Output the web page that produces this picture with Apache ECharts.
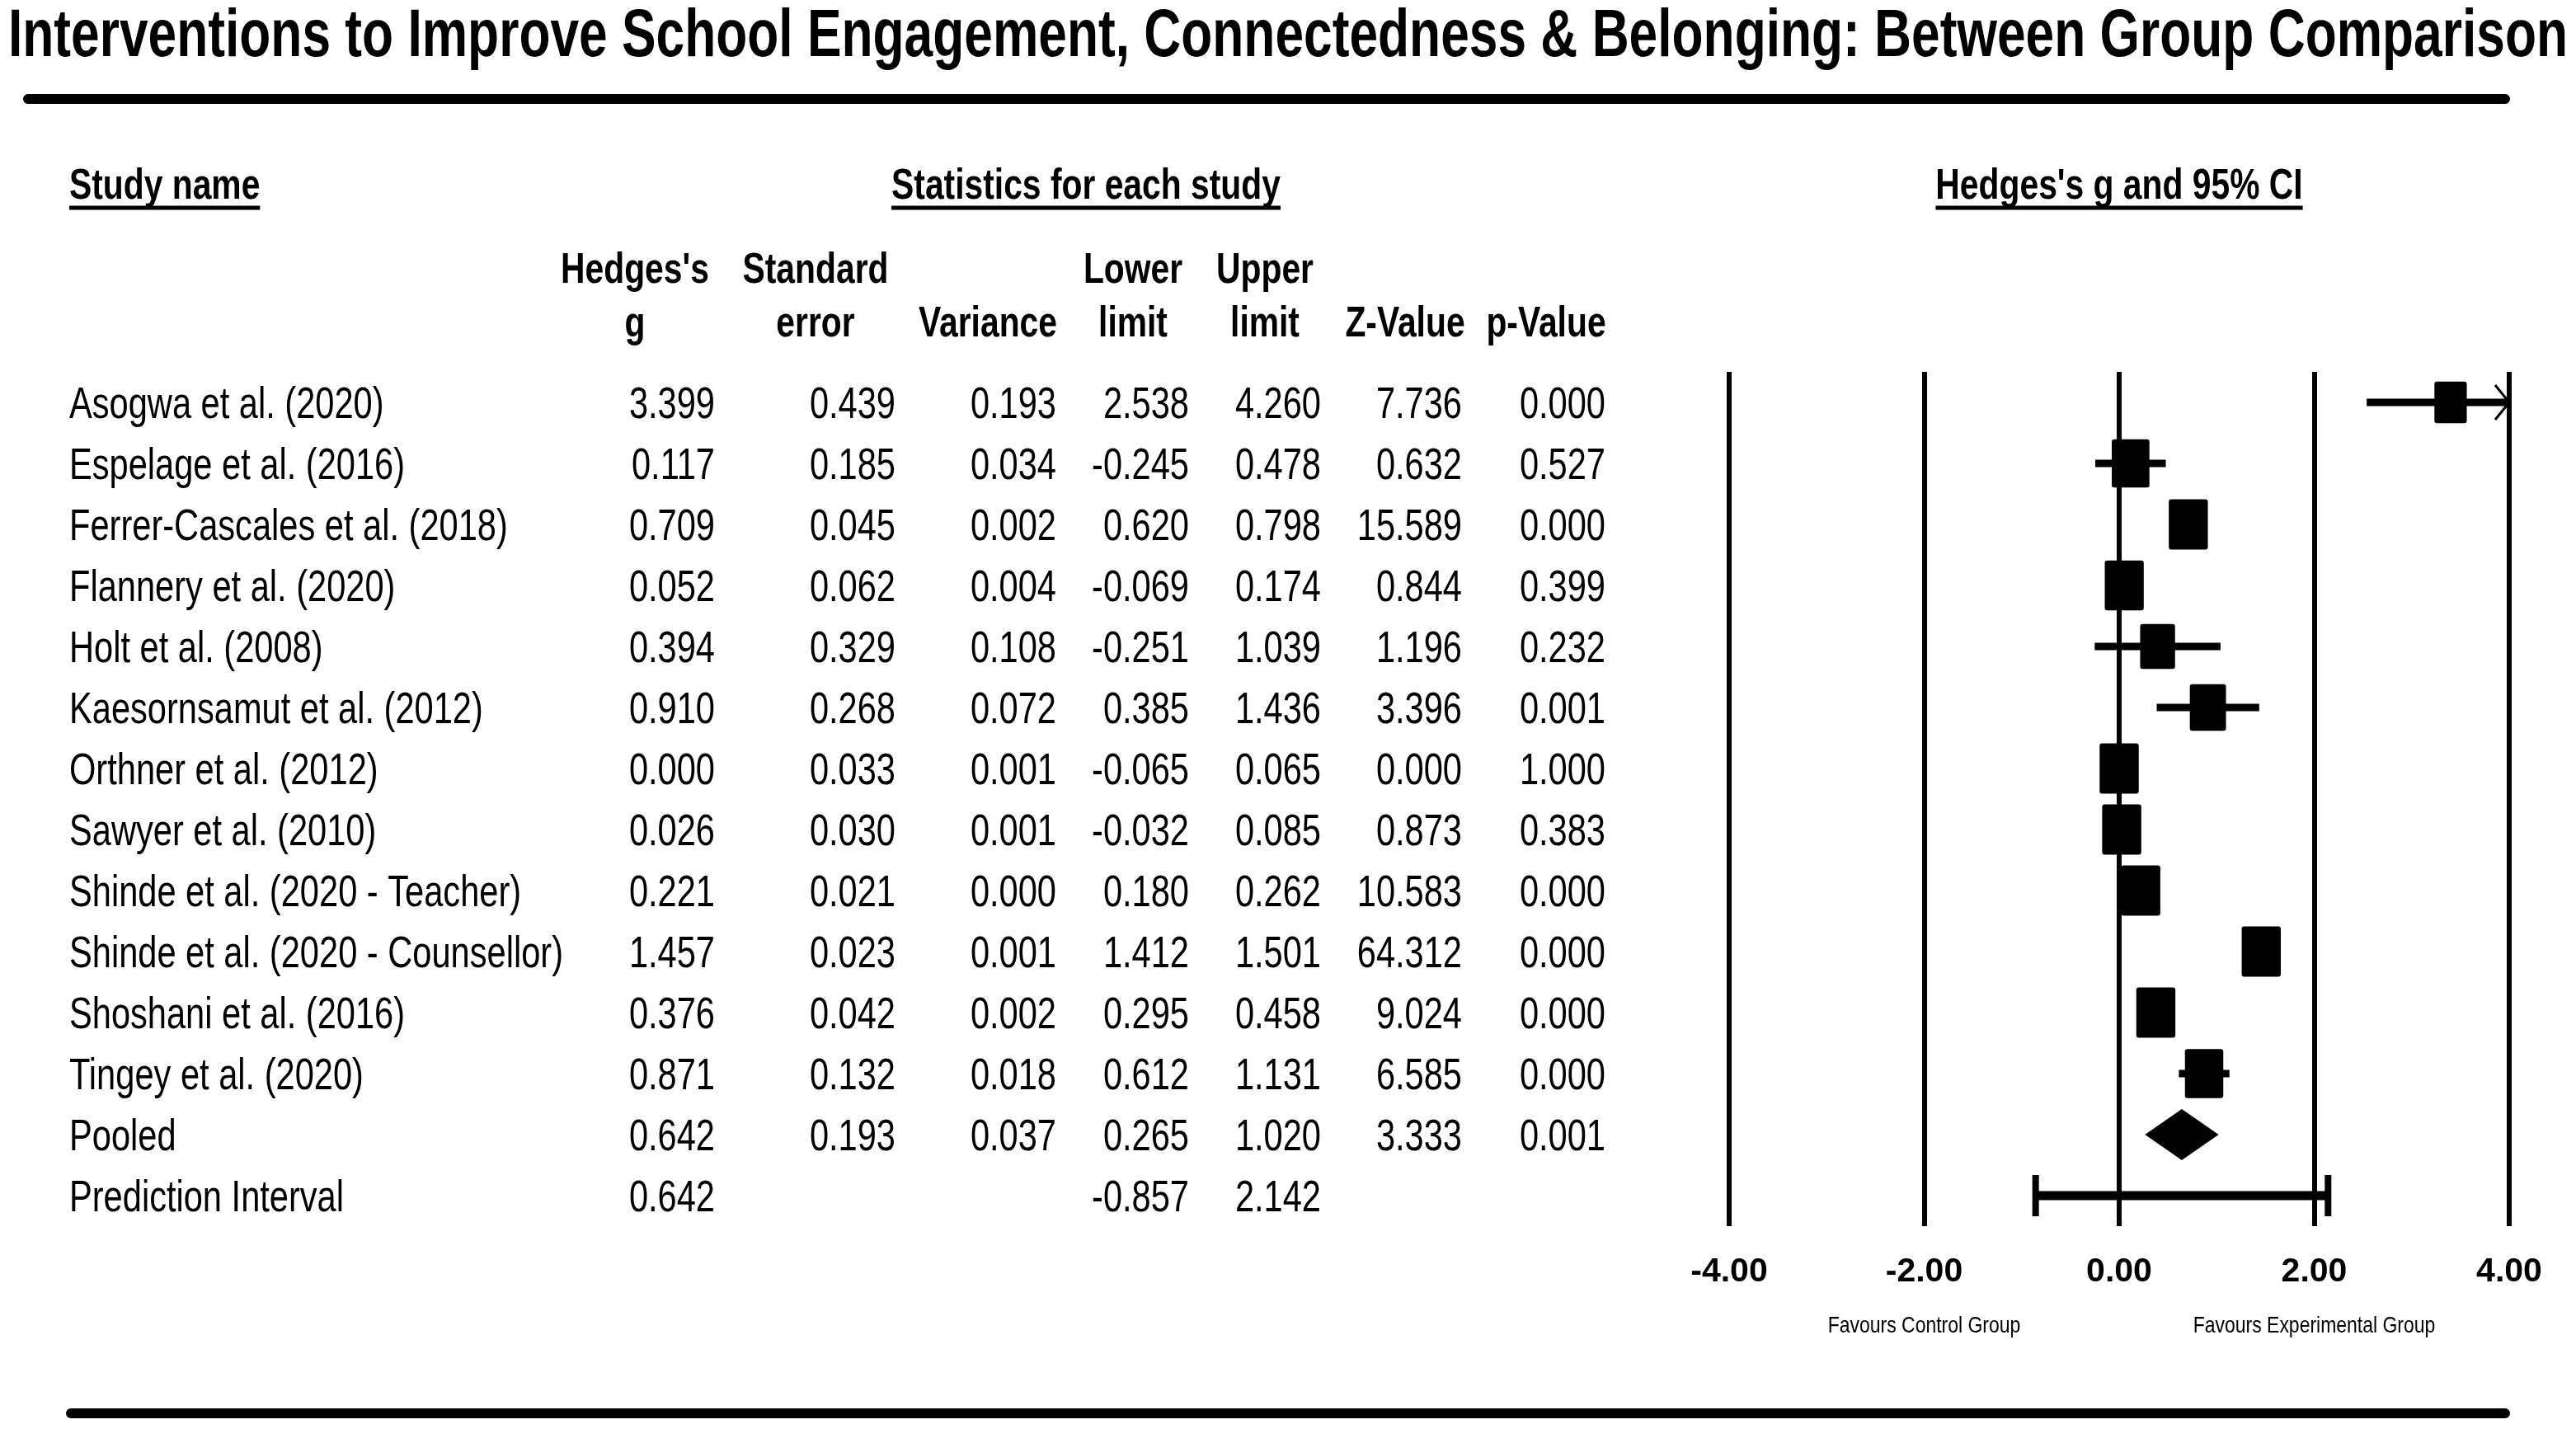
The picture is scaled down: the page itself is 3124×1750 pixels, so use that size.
<!DOCTYPE html>
<html>
<head>
<meta charset="utf-8">
<script src="https://cdn.jsdelivr.net/npm/echarts@6/dist/echarts.min.js"></script>
<style>
html,body{margin:0;padding:0;background:#ffffff;}
#c{width:3124px;height:1750px;}
</style>
</head>
<body>
<div id="c"></div>
<script>
// ---------------- DATA ----------------
const chartTitle = 'Interventions to Improve School Engagement, Connectedness & Belonging: Between Group Comparison';
const sectionHeaders = ['Study name', 'Statistics for each study', "Hedges's g and 95% CI"];
const columnHeaders = [["Hedges's", 'g'], ['Standard', 'error'], ['', 'Variance'], ['Lower', 'limit'], ['Upper', 'limit'], ['', 'Z-Value'], ['', 'p-Value']];
const studies = [
  'Asogwa et al. (2020)', 'Espelage et al. (2016)', 'Ferrer-Cascales et al. (2018)', 'Flannery et al. (2020)',
  'Holt et al. (2008)', 'Kaesornsamut et al. (2012)', 'Orthner et al. (2012)', 'Sawyer et al. (2010)',
  'Shinde et al. (2020 - Teacher)', 'Shinde et al. (2020 - Counsellor)', 'Shoshani et al. (2016)', 'Tingey et al. (2020)'
];
const hedgesG   = [3.399, 0.117, 0.709, 0.052, 0.394, 0.910, 0.000, 0.026, 0.221, 1.457, 0.376, 0.871];
const stdError  = [0.439, 0.185, 0.045, 0.062, 0.329, 0.268, 0.033, 0.030, 0.021, 0.023, 0.042, 0.132];
const variance  = [0.193, 0.034, 0.002, 0.004, 0.108, 0.072, 0.001, 0.001, 0.000, 0.001, 0.002, 0.018];
const lowerLimit = [2.538, -0.245, 0.620, -0.069, -0.251, 0.385, -0.065, -0.032, 0.180, 1.412, 0.295, 0.612];
const upperLimit = [4.260, 0.478, 0.798, 0.174, 1.039, 1.436, 0.065, 0.085, 0.262, 1.501, 0.458, 1.131];
const zValue    = [7.736, 0.632, 15.589, 0.844, 1.196, 3.396, 0.000, 0.873, 10.583, 64.312, 9.024, 6.585];
const pValue    = [0.000, 0.527, 0.000, 0.399, 0.232, 0.001, 1.000, 0.383, 0.000, 0.000, 0.000, 0.000];
const pooledLabel = 'Pooled';
const pooledStats = [0.642, 0.193, 0.037, 0.265, 1.020, 3.333, 0.001]; // g, SE, var, lower, upper, Z, p
const predictionLabel = 'Prediction Interval';
const predictionStats = [0.642, null, null, -0.857, 2.142, null, null];
const tCritical = 2.228; // t(0.975, df = k - 2 = 10), used for prediction interval
const xTicks = [-4, -2, 0, 2, 4];
const xTickLabels = ['-4.00', '-2.00', '0.00', '2.00', '4.00'];
const favourLabels = ['Favours Control Group', 'Favours Experimental Group'];

// ---------------- DERIVED ----------------
const rowLabels = studies.concat([pooledLabel, predictionLabel]);
const tableRows = studies.map((s, i) => [hedgesG[i], stdError[i], variance[i], lowerLimit[i], upperLimit[i], zValue[i], pValue[i]])
  .concat([pooledStats, predictionStats]);
// random-effects weights (tau^2 recovered from prediction interval) -> box size
const tau2 = Math.pow((predictionStats[4] - pooledStats[0]) / tCritical, 2) - pooledStats[2];
const weights = variance.map(v => 1 / (v + tau2));
const wMax = Math.max.apply(null, weights);

// ---------------- FONTS ----------------
function fontAvailable(name) {
  const c = document.createElement('canvas').getContext('2d');
  const s = 'abcdefghijklmnopqrstuvwxyzABCDEFGHIJ0123456789';
  c.font = '40px monospace';
  const a = c.measureText(s).width;
  c.font = "40px '" + name + "', monospace";
  const b = c.measureText(s).width;
  return Math.abs(a - b) > 0.5;
}
const NARROW = fontAvailable('Liberation Sans Narrow');
const FAM = NARROW ? "'Liberation Sans Narrow', 'Liberation Sans', Arial, sans-serif" : "'Liberation Sans', Arial, sans-serif";
const SX = NARROW ? 0.957 : 0.785;      // horizontal squeeze of the reference
const SX_SMALL = NARROW ? 1.0 : 0.82;
const measureCtx = document.createElement('canvas').getContext('2d');
function textWidth(t, size, weight) {
  measureCtx.font = (weight || 'normal') + ' ' + size + 'px ' + FAM;
  return measureCtx.measureText(t).width;
}

// ---------------- LAYOUT ----------------
const W = 3124, H = 1750;
const gridTop = 451, rowH = 74, nRows = rowLabels.length, gridH = rowH * nRows;
const plotLeft = 2097, plotRight = 3043;
const nameX = 84;
const valueRight = [867, 1086, 1281, 1442, 1602, 1773, 1947];
const headerCenter = [770, 989, 1198, 1374, 1534, 1704, 1875];
const HEAD_SIZE = 52, ROW_SIZE = 53;
const TY = 4; // vertical text nudge
const BOX_H = 61, BOX_W = 47.5;
function plotX(v) { return plotLeft + (v - xTicks[0]) / (xTicks[xTicks.length - 1] - xTicks[0]) * (plotRight - plotLeft); }

function tx(x, y, text, size, weight, align, sx) {
  return {
    type: 'text', x: x, y: y + TY, scaleX: sx, silent: true,
    style: {
      text: text, fontSize: size, fontWeight: weight, fontFamily: FAM, fill: '#000',
      align: align, verticalAlign: 'middle', textAlign: align, textVerticalAlign: 'middle'
    }
  };
}
function hline(x1, x2, y, w, cap) {
  return { type: 'line', silent: true, shape: { x1: x1, y1: y, x2: x2, y2: y }, style: { stroke: '#000', lineWidth: w, lineCap: cap || 'butt' } };
}

// graphic (static layout: title, rules, headers)
const graphics = [];
const titleSize = 81;
const titleSX = 3104 / textWidth(chartTitle, titleSize, 'bold');
graphics.push(tx(1562, 42, chartTitle, titleSize, 'bold', 'center', titleSX));
graphics.push(hline(34, 3038, 120, 12, 'round'));
graphics.push(hline(86, 3038, 1714, 12, 'round'));

const secY = 223, ulY = 252;
const secPos = [[nameX, 'left'], [1317, 'center'], [plotX(0), 'center']];
sectionHeaders.forEach((t, k) => {
  const [x, al] = secPos[k];
  graphics.push(tx(x, secY, t, HEAD_SIZE, 'bold', al, SX));
  const w = textWidth(t, HEAD_SIZE, 'bold') * SX;
  const x1 = al === 'left' ? x : x - w / 2;
  graphics.push(hline(x1, x1 + w, ulY, 5));
});
columnHeaders.forEach((pair, k) => {
  if (pair[0]) graphics.push(tx(headerCenter[k], 325, pair[0], HEAD_SIZE, 'bold', 'center', SX));
  if (pair[1]) graphics.push(tx(headerCenter[k], 390, pair[1], HEAD_SIZE, 'bold', 'center', SX));
});
graphics.push(tx(plotX(-2), 1604, favourLabels[0], 28, 'normal', 'center', SX_SMALL));
graphics.push(tx(plotX(2), 1604, favourLabels[1], 28, 'normal', 'center', SX_SMALL));

// ---------------- SERIES DATA ----------------
const tableData = rowLabels.map((n, i) => [0.5, i]);
const forestData = [];
studies.forEach((s, i) => forestData.push([hedgesG[i], i, lowerLimit[i], upperLimit[i], Math.sqrt(weights[i] / wMax)]));
forestData.push([pooledStats[0], studies.length, pooledStats[3], pooledStats[4], 0]);
forestData.push([predictionStats[0], studies.length + 1, predictionStats[3], predictionStats[4], 0]);

function fmt(v) { return v == null ? '' : v.toFixed(3); }

const option = {
  backgroundColor: '#ffffff',
  animation: false,
  graphic: { elements: graphics },
  grid: [
    { left: 0, width: 2000, top: gridTop, height: gridH, containLabel: false, outerBoundsMode: 'none', show: false },
    { left: plotLeft, width: plotRight - plotLeft, top: gridTop, height: gridH, containLabel: false, outerBoundsMode: 'none', show: false }
  ],
  xAxis: [
    { gridIndex: 0, type: 'value', min: 0, max: 1, show: false },
    {
      gridIndex: 1, type: 'value', min: xTicks[0], max: xTicks[xTicks.length - 1], interval: 2,
      axisLine: { show: false }, axisTick: { show: false },
      splitLine: { show: true, showMinLine: true, showMaxLine: true, lineStyle: { color: '#000', width: 6, type: 'solid' } },
      axisLabel: {
        show: true, margin: 35, color: '#000', fontWeight: 'bold', fontFamily: FAM, fontSize: NARROW ? 47 : 41,
        formatter: v => { const k = xTicks.indexOf(v); return k >= 0 ? xTickLabels[k] : ''; }
      }
    }
  ],
  yAxis: [
    { gridIndex: 0, type: 'category', data: rowLabels, inverse: true, show: false },
    { gridIndex: 1, type: 'category', data: rowLabels, inverse: true, show: false, splitLine: { show: false } }
  ],
  series: [
    {
      type: 'custom', name: 'table', xAxisIndex: 0, yAxisIndex: 0, silent: true, clip: false,
      data: tableData,
      encode: { x: 0, y: 1 },
      renderItem: function (params, api) {
        const i = params.dataIndex;
        const yc = api.coord([0.5, i])[1];
        const children = [tx(nameX, yc, rowLabels[i], ROW_SIZE, 'normal', 'left', SX)];
        tableRows[i].forEach((v, c) => {
          if (v != null) children.push(tx(valueRight[c], yc, fmt(v), ROW_SIZE, 'normal', 'right', SX));
        });
        return { type: 'group', children: children };
      }
    },
    {
      type: 'custom', name: 'forest', xAxisIndex: 1, yAxisIndex: 1, silent: true, clip: false,
      data: forestData,
      encode: { x: [0, 2, 3], y: 1 },
      renderItem: function (params, api) {
        const i = params.dataIndex;
        const g = api.value(0), row = api.value(1), lo = api.value(2), hi = api.value(3), s = api.value(4);
        const xmin = xTicks[0], xmax = xTicks[xTicks.length - 1];
        const yc = api.coord([g, row])[1];
        const xc = api.coord([g, row])[0];
        const xl = api.coord([Math.max(lo, xmin), row])[0];
        const xr = api.coord([Math.min(hi, xmax), row])[0];
        const children = [];
        if (i < studies.length) {
          children.push({ type: 'line', shape: { x1: xl, y1: yc, x2: xr, y2: yc }, style: { stroke: '#000', lineWidth: 9 } });
          const bh = BOX_H * s, bw = BOX_W * s;
          children.push({ type: 'rect', shape: { x: xc - bw / 2, y: yc - bh / 2, width: bw, height: bh, r: 3 }, style: { fill: '#000' } });
          if (hi > xmax) {
            children.push({ type: 'polyline', shape: { points: [[xr - 17, yc - 21], [xr, yc], [xr - 17, yc + 21]] }, style: { stroke: '#000', lineWidth: 3, fill: null } });
          }
        } else if (i === studies.length) {
          children.push({ type: 'polygon', shape: { points: [[xl, yc], [xc, yc - 31], [xr, yc], [xc, yc + 31]] }, style: { fill: '#000' } });
        } else {
          children.push({ type: 'line', shape: { x1: xl, y1: yc, x2: xr, y2: yc }, style: { stroke: '#000', lineWidth: 11 } });
          children.push({ type: 'line', shape: { x1: xl, y1: yc - 25, x2: xl, y2: yc + 25 }, style: { stroke: '#000', lineWidth: 8 } });
          children.push({ type: 'line', shape: { x1: xr, y1: yc - 25, x2: xr, y2: yc + 25 }, style: { stroke: '#000', lineWidth: 8 } });
        }
        return { type: 'group', children: children };
      }
    }
  ]
};

const chart = echarts.init(document.getElementById('c'), null, { renderer: 'canvas', width: W, height: H });
chart.setOption(option);
</script>
</body>
</html>
